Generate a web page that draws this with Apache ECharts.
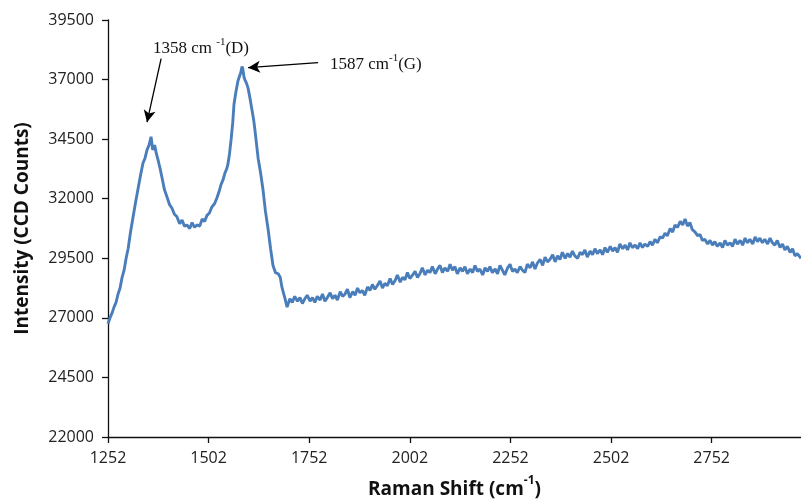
<!DOCTYPE html>
<html>
<head>
<meta charset="utf-8">
<script src="https://cdn.jsdelivr.net/npm/echarts@6/dist/echarts.min.js"></script>
<style>
html,body{margin:0;padding:0;background:#fff;}
#chart{width:801px;height:504px;}
</style>
</head>
<body>
<div id="chart"></div>
<script>
// Raman shift (cm-1)
const ramanShift = [
 1252,1258,1262,1267,1272,1277,1282,1287,1292,1297,1302,1308,1314,1320,1327,1333,1339,1344,1349,1354,1359,1363,1368,1372,1376,1381,1386,1392,1399,1405,1411,1417,1423,1430,1436,1442,1448,1455,1461,1467,1473,1480,1486,1492,1498,1504,1510,1517,1523,1528,1533,1538,1543,1547,1550,1554,1558,1562,1565,1570,1575,1579,1582,1585,1587,1590,1592,1596,1600,1605,1610,1614,1617,1621,1625,1631,1637,1643,1650,1656,1662,1668,1675,1680,1684,1688,1692,1697,
 1704,1710,1716,1723,1729,1735,1741,1747,1754,1760,
 1766,1772,1779,1785,1791,1797,1804,1810,1816,1822,
 1829,1835,1841,1847,1853,1860,1866,1872,1878,1884,
 1890,1897,1903,1909,1915,1921,1928,1934,1940,1946,
 1953,1959,1965,1971,1978,1984,1990,1996,2002,2009,
 2015,2021,2027,2033,2040,2046,2052,2058,2065,2071,
 2077,2083,2089,2096,2102,2108,2114,2120,2127,2133,
 2139,2145,2152,2158,2164,2170,2176,2183,2189,2195,
 2201,2207,2214,2220,2226,2232,2238,2245,2251,2257,
 2263,2269,2276,2282,2288,2294,2301,2307,2313,2319,
 2326,2332,2338,2344,2350,2357,2363,2369,2375,2381,
 2388,2394,2400,2406,2412,2419,2425,2431,2437,2443,
 2450,2456,2462,2468,2475,2481,2487,2493,2500,2506,
 2512,2518,2524,2531,2537,2543,2549,2555,2562,2568,
 2574,2580,2586,2593,2599,2605,2611,2617,2624,2630,
 2636,2642,2649,2655,2661,2667,2674,2680,2686,2692,
 2698,2704,2711,2717,2723,2729,2735,2742,2748,2754,
 2760,2766,2773,2779,2785,2791,2798,2804,2810,2816,
 2823,2829,2835,2841,2847,2854,2860,2866,2872,2878,
 2884,2891,2897,2903,2909,2915,2922,2928,2934,2940,
 2947,2953,2959,2965,2974
];
// Intensity (CCD counts)
const intensity = [
 26750,27050,27200,27450,27650,28000,28250,28700,29000,29500,29900,30600,31200,31800,32450,33000,33500,33700,34050,34250,34600,34050,34250,33900,33650,33300,32900,32400,32050,31750,31600,31350,31250,30950,31100,30850,30900,30750,31000,30800,30900,30850,31150,31050,31300,31400,31650,31800,32050,32300,32600,32800,33100,33250,33450,33900,34500,35200,35950,36500,36950,37150,37300,37550,37450,37100,37000,36850,36650,36200,35700,35300,34900,34300,33700,33100,32400,31500,30700,29900,29200,28900,28850,28700,28300,28050,27800,27450,
 27800,27650,27900,27700,27850,27600,27800,27950,27700,27850,
 27650,27900,27750,28000,27700,27850,28050,27800,27950,27750,
 28100,27900,28000,28200,27850,28100,27950,28250,28050,28150,
 27950,28300,28150,28400,28200,28350,28550,28250,28450,28350,
 28650,28400,28550,28800,28500,28700,28600,28900,28650,28800,
 28950,28700,28850,29100,28800,29000,28900,29150,28850,29050,
 29200,28900,29100,28950,29250,29000,29150,28850,29100,28950,
 29150,28850,29050,28900,29200,28950,29050,28800,29100,28950,
 29150,28900,29050,28850,29200,29000,28800,29100,29250,28950,
 29050,28900,29150,29000,28900,29250,29100,29350,29050,29300,
 29450,29200,29550,29350,29450,29650,29350,29600,29450,29750,
 29500,29700,29550,29800,29600,29500,29750,29650,29850,29550,
 29800,29650,29900,29700,29850,29650,29950,29750,30000,29800,
 29950,29750,30100,29900,30050,29850,30150,29950,30050,29900,
 30150,29950,30100,30000,30200,30050,30300,30150,30400,30350,
 30550,30450,30750,30600,30900,30800,31050,30900,31150,30850,
 31000,30700,30600,30450,30500,30250,30300,30100,30250,30050,
 30200,30000,30150,29950,30250,30050,30150,30000,30300,30100,
 30250,30050,30350,30150,30300,30100,30400,30200,30350,30150,
 30300,30100,30350,30150,30050,30250,29950,30100,29850,30000,
 29750,29900,29600,29700,29500
];
const xTicks = [1252,1502,1752,2002,2252,2502,2752];
const yTicks = [22000,24500,27000,29500,32000,34500,37000,39500];
// annotation arrows: [start, tip] in data coordinates
const arrowD = [[1384,37875],[1349,35210]];
const arrowG = [[1774,37710],[1600,37500]];

const data = ramanShift.map((x,i)=>[x,intensity[i]]);
const chart = echarts.init(document.getElementById('chart'), null, {renderer:'canvas'});
const labelFont = '"Open Sans", sans-serif';
chart.setOption({
  animation:false,
  backgroundColor:'#fff',
  grid:{left:108, top:20, right:0, bottom:63, containLabel:false},
  xAxis:{
    type:'value', min:1252, max:2974, interval:250,
    name:'{b|Raman Shift (cm}{s|-1}{b|)}',
    nameLocation:'middle', nameGap:38,
    nameTextStyle:{rich:{
      b:{fontFamily:labelFont,fontWeight:'bold',fontSize:19,color:'#111',verticalAlign:'bottom',lineHeight:24},
      s:{fontFamily:labelFont,fontWeight:'bold',fontSize:12,color:'#111',verticalAlign:'top',lineHeight:24,padding:[0,0,0,0]}
    }},
    axisLine:{show:true,onZero:false,lineStyle:{color:'#111',width:1.3}},
    axisTick:{show:true,inside:false,length:6,lineStyle:{color:'#111',width:1.3}},
    splitLine:{show:false},
    axisLabel:{fontFamily:labelFont,fontSize:16,color:'#222',margin:13,showMaxLabel:false,
      formatter:v=> xTicks.indexOf(v)>=0 ? String(v) : ''}
  },
  yAxis:{
    type:'value', min:22000, max:39500, interval:2500,
    name:'Intensity (CCD Counts)', nameLocation:'middle', nameGap:76, nameRotate:90,
    nameTextStyle:{fontFamily:labelFont,fontWeight:'bold',fontSize:19,color:'#111'},
    axisLine:{show:true,onZero:false,lineStyle:{color:'#111',width:1.3}},
    axisTick:{show:true,inside:false,length:6,lineStyle:{color:'#111',width:1.3}},
    splitLine:{show:false},
    axisLabel:{fontFamily:labelFont,fontSize:16,color:'#222',margin:14,
      formatter:v=> yTicks.indexOf(v)>=0 ? String(v) : ''}
  },
  series:[{
    type:'line', data:data, showSymbol:false, symbol:'none',
    lineStyle:{color:'#4a7ebb',width:2.9},
    itemStyle:{color:'#4a7ebb'},
    markLine:{
      silent:true, symbol:['none','arrow'], symbolSize:[9,12], animation:false,
      lineStyle:{color:'#000',width:1.3,type:'solid'},
      label:{show:false},
      emphasis:{disabled:true},
      data:[
        [{coord:arrowD[0]},{coord:arrowD[1]}],
        [{coord:arrowG[0]},{coord:arrowG[1]}]
      ]
    }
  }],
  graphic:[
    {type:'text', left:153, top:37, silent:true, style:{
      text:'{t|1358 cm }{s|-1}{t|(D)}',
      rich:{
        t:{fontFamily:'"Liberation Serif", serif',fontSize:17,fill:'#111',verticalAlign:'bottom',lineHeight:20},
        s:{fontFamily:'"Liberation Serif", serif',fontSize:11,fill:'#111',verticalAlign:'top',lineHeight:20}
      }}},
    {type:'text', left:330, top:53, silent:true, style:{
      text:'{t|1587 cm}{s|-1}{t|(G)}',
      rich:{
        t:{fontFamily:'"Liberation Serif", serif',fontSize:17,fill:'#111',verticalAlign:'bottom',lineHeight:20},
        s:{fontFamily:'"Liberation Serif", serif',fontSize:11,fill:'#111',verticalAlign:'top',lineHeight:20}
      }}}
  ]
});
</script>
</body>
</html>
